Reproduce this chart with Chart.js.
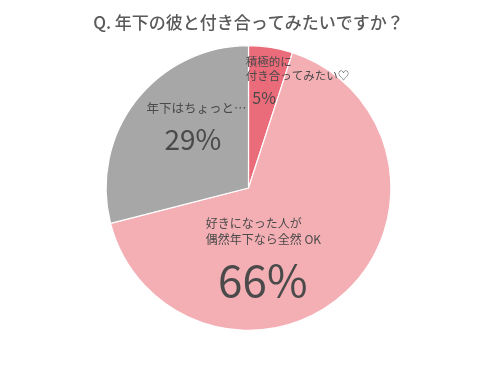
<!DOCTYPE html>
<html>
<head>
<meta charset="utf-8">
<script src="https://cdn.jsdelivr.net/npm/chart.js@4"></script>
<style>
    html, body { margin: 0; padding: 0; background: #fff; }
    #wrap { width: 500px; height: 371px; }
</style>
</head>
<body>
<div id="wrap"><canvas id="pie"></canvas></div>
<script>
const titleText = 'Q. 年下の彼と付き合ってみたいですか？';
const categories = ['積極的に\n付き合ってみたい♡', '好きになった人が\n偶然年下なら全然 OK', '年下はちょっと…'];
const values = [5, 66, 29];
const colors = ['#ea6b79', '#f4afb4', '#a7a7a7'];

const FONT = '"Noto Sans CJK JP", "Noto Sans", sans-serif';
const TEXT = '#4a4a4a';

// 各スライスのラベル（中心からの相対位置 / 半径比）
const labelSpots = [
    { dx: -0.02, dy: -0.89, align: 'left', name: 11.5, pct: 16, pdx: 0.11, pdy: -0.63, gap: 14 },
    { dx: -0.30, dy: 0.25, align: 'left', name: 12, pct: 44, pdx: 0.10, pdy: 0.65, gap: 16 },
    { dx: -0.365, dy: -0.56, align: 'center', name: 12.5, pct: 28, pdx: -0.39, pdy: -0.34, gap: 14 }
];

const labelPlugin = {
    id: 'sliceLabels',
    afterDatasetsDraw(chart) {
        const arc = chart.getDatasetMeta(0).data[0];
        if (!arc) return;
        const cx = arc.x, cy = arc.y, r = arc.outerRadius;
        const ctx = chart.ctx;
        ctx.save();
        ctx.fillStyle = TEXT;
        ctx.textBaseline = 'middle';
        categories.forEach((name, i) => {
            const s = labelSpots[i];
            ctx.textAlign = s.align;
            ctx.font = `${s.name}px ${FONT}`;
            name.split('\n').forEach((line, k) => {
                ctx.fillText(line, cx + s.dx * r, cy + s.dy * r + k * s.gap);
            });
            ctx.textAlign = 'center';
            ctx.font = `${s.pct}px ${FONT}`;
            ctx.fillText(values[i] + '%', cx + s.pdx * r, cy + s.pdy * r);
        });
        ctx.restore();
    }
};

new Chart(document.getElementById('pie'), {
    type: 'pie',
    data: {
        labels: categories,
        datasets: [{
            data: values,
            backgroundColor: colors,
            borderColor: '#ffffff',
            borderWidth: 1.2
        }]
    },
    options: {
        responsive: true,
        maintainAspectRatio: false,
        animation: false,
        layout: { padding: { top: 0, bottom: 40, left: 0, right: 3 } },
        plugins: {
            legend: { display: false },
            tooltip: { enabled: false },
            title: {
                display: true,
                text: titleText,
                color: '#5a5a5a',
                font: { family: FONT, size: 17, weight: '500', lineHeight: 1.2 },
                padding: { top: 12, bottom: 12.6 }
            }
        }
    },
    plugins: [labelPlugin]
});
</script>
</body>
</html>
